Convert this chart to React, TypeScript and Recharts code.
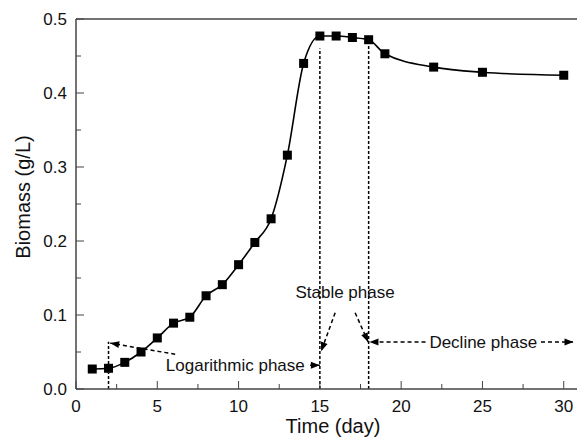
import React from "react";
import {
  ComposedChart,
  Line,
  XAxis,
  YAxis,
  ReferenceLine,
  ReferenceDot,
} from "recharts";

const days = [1, 2, 3, 4, 5, 6, 7, 8, 9, 10, 11, 12, 13, 14, 15, 16, 17, 18, 19, 22, 25, 30];
const biomass = [
  0.027, 0.028, 0.036, 0.05, 0.069, 0.089, 0.097, 0.126, 0.141, 0.168, 0.198, 0.23,
  0.316, 0.44, 0.477, 0.477, 0.475, 0.472, 0.453, 0.435, 0.428, 0.424,
];

const xTicks = [0, 2.5, 5, 7.5, 10, 12.5, 15, 17.5, 20, 22.5, 25, 27.5, 30];
const yTicks = [0, 0.05, 0.1, 0.15, 0.2, 0.25, 0.3, 0.35, 0.4, 0.45, 0.5];

// phase boundaries: [day, top of the dashed line]
const phaseLines = [
  [2, 0.064],
  [15, 0.46],
  [18, 0.47],
];

// arrows: [tailX, tailY, tipX, tipY]
const arrows = [
  [6.1, 0.047, 2.1, 0.062],
  [14.4, 0.032, 15.0, 0.032],
  [15.94, 0.103, 15.08, 0.051],
  [17.17, 0.103, 17.97, 0.0635],
  [21.5, 0.0635, 18.05, 0.0635],
  [28.6, 0.0635, 30.6, 0.0635],
];

const phaseLabels = [
  { text: "Logarithmic phase", x: 9.8, y: 0.032 },
  { text: "Stable phase", x: 16.55, y: 0.13 },
  { text: "Decline phase", x: 25.05, y: 0.0635 },
];

const data = days.map((d, i) => ({ day: d, biomass: biomass[i] }));

const FONT = "'Liberation Sans', Arial, sans-serif";
const AXIS = "#444";

function XTick(props: any) {
  const { x, y, payload } = props;
  const major = payload.value % 5 === 0;
  return (
    <g>
      <line x1={x} x2={x} y1={y} y2={y - (major ? 8 : 5)} stroke={AXIS} strokeWidth={1} />
      {major && (
        <text x={x} y={y + 23} textAnchor="middle" fontSize={17} fontFamily={FONT} fill="#111">
          {payload.value}
        </text>
      )}
    </g>
  );
}

function YTick(props: any) {
  const { x, y, payload } = props;
  const major = Math.abs(Math.round(payload.value * 10) - payload.value * 10) < 1e-6;
  return (
    <g>
      <line x1={x} x2={x + (major ? 8 : 5)} y1={y} y2={y} stroke={AXIS} strokeWidth={1} />
      {major && (
        <text x={x - 9} y={y + 6} textAnchor="end" fontSize={17} fontFamily={FONT} fill="#111">
          {payload.value.toFixed(1)}
        </text>
      )}
    </g>
  );
}

function head(tx: number, ty: number, fx: number, fy: number) {
  const a = Math.atan2(ty - fy, tx - fx);
  const L = 9;
  const W = 3.5;
  const bx = tx - L * Math.cos(a);
  const by = ty - L * Math.sin(a);
  const px = -Math.sin(a) * W;
  const py = Math.cos(a) * W;
  return `${tx},${ty} ${bx + px},${by + py} ${bx - px},${by - py}`;
}

const arrowShape = (p: any) => {
  const { x1, y1, x2, y2 } = p;
  return (
    <g>
      <line x1={x1} y1={y1} x2={x2} y2={y2} stroke="#000" strokeWidth={1.5} strokeDasharray="4 3" />
      <polygon points={head(x2, y2, x1, y1)} fill="#000" />
    </g>
  );
};

const Square = (p: any) => {
  if (p.cx == null || p.cy == null) return <g key={p.index} />;
  return <rect key={p.index} x={p.cx - 4.5} y={p.cy - 4.5} width={9} height={9} fill="#000" />;
};

export default function App() {
  return (
    <div style={{ position: "absolute", left: 0, top: 0, width: 577, height: 437, overflow: "hidden", background: "#fff" }}>
      <ComposedChart
        width={592}
        height={437}
        data={data}
        margin={{ top: 19, right: 12, bottom: 0, left: 0 }}
      >
        <XAxis
          dataKey="day"
          type="number"
          domain={[0, 31]}
          ticks={xTicks}
          interval={0}
          height={48}
          tickSize={0}
          tickMargin={0}
          tickLine={false}
          tick={<XTick />}
          axisLine={{ stroke: AXIS, strokeWidth: 1.5 }}
          label={{
            value: "Time (day)",
            position: "insideBottom",
            offset: 4,
            dx: 5,
            fontSize: 20,
            fontFamily: FONT,
            fill: "#111",
          }}
        />
        <YAxis
          type="number"
          domain={[0, 0.5]}
          ticks={yTicks}
          interval={0}
          width={76}
          tickSize={0}
          tickMargin={0}
          tickLine={false}
          tick={<YTick />}
          axisLine={{ stroke: AXIS, strokeWidth: 1.5 }}
          label={{
            content: (lp: any) => {
              const vb = lp.viewBox;
              const cy = vb.y + vb.height / 2 - 7;
              return (
                <text
                  transform={`translate(23,${cy}) rotate(-90)`}
                  textAnchor="middle"
                  dominantBaseline="central"
                  fontSize={20}
                  fontFamily={FONT}
                  fill="#111"
                >
                  Biomass (g/L)
                </text>
              );
            },
          }}
        />
        <ReferenceLine y={0.5} stroke={AXIS} strokeWidth={1.5} />
        {phaseLines.map(([x, top]) => (
          <ReferenceLine
            key={`v${x}`}
            segment={[
              { x, y: 0 },
              { x, y: top },
            ]}
            stroke="#000"
            strokeWidth={1.5}
            strokeDasharray="3 2"
          />
        ))}
        {arrows.map(([tx, ty, hx, hy], i) => (
          <ReferenceLine
            key={`a${i}`}
            segment={[
              { x: tx, y: ty },
              { x: hx, y: hy },
            ]}
            ifOverflow="visible"
            shape={arrowShape}
          />
        ))}
        {phaseLabels.map((l) => (
          <ReferenceDot
            key={l.text}
            x={l.x}
            y={l.y}
            ifOverflow="visible"
            shape={(p: any) => (
              <text
                x={p.cx}
                y={p.cy}
                textAnchor="middle"
                dominantBaseline="central"
                fontSize={17}
                fontFamily={FONT}
                fill="#111"
              >
                {l.text}
              </text>
            )}
          />
        ))}
        <Line
          dataKey="biomass"
          type="monotone"
          stroke="#000"
          strokeWidth={1.6}
          dot={Square}
          activeDot={false}
          isAnimationActive={false}
        />
      </ComposedChart>
    </div>
  );
}
